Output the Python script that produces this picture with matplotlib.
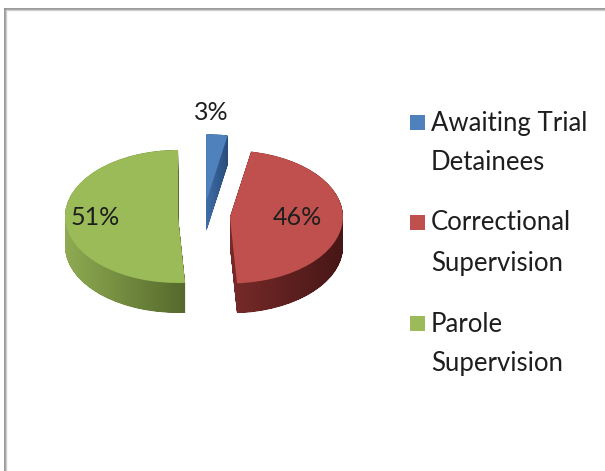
import numpy as np
import matplotlib
matplotlib.use('Agg')
import matplotlib.pyplot as plt
from matplotlib.patches import Rectangle, PathPatch
from matplotlib.path import Path
from matplotlib.lines import Line2D
from matplotlib.colors import LinearSegmentedColormap

plt.rcParams['font.family'] = ['Lato', 'DejaVu Sans']

# ── Data ────────────────────────────────────────────────────────────────
categories = ['Awaiting Trial\nDetainees', 'Correctional\nSupervision', 'Parole\nSupervision']
shares     = [3, 46, 51]
pct_labels = ['3%', '46%', '51%']
top_colors  = ['#4f81bd', '#c0504d', '#9bbb59']
# side shading: lit colour (left) -> shadow colour (right)
side_left   = ['#3f6ea8', '#772b29', '#8eab52']
side_right  = ['#284d7a', '#461616', '#55692b']

W, H = 605, 471
fig = plt.figure(figsize=(W/100, H/100), dpi=100)
ax = fig.add_axes([0, 0, 1, 1])

explode = [0.23] * len(shares)
depth = 0.45          # thickness of the 3D slab (y units)
n_steps = 60

# top face (drawn first so we can reuse its wedge outlines for the sides)
wedges, _ = ax.pie(shares, colors=top_colors, explode=explode, startangle=90,
                   counterclock=False, center=(0, 0), wedgeprops=dict(linewidth=0))

# side of the slab: top-face outline swept downwards, filled with a gradient
for w, cl, cr in zip(wedges, side_left, side_right):
    p = w.get_path()
    verts, codes = [], []
    for k in range(n_steps + 1):
        verts.append(p.vertices + np.array([0, -depth * k / n_steps]))
        codes.append(p.codes)
    swept = Path(np.concatenate(verts), np.concatenate(codes))
    clip = PathPatch(swept, transform=ax.transData, facecolor='none', edgecolor='none')
    ax.add_patch(clip)
    x0, x1 = swept.vertices[:, 0].min(), swept.vertices[:, 0].max()
    y0, y1 = swept.vertices[:, 1].min(), swept.vertices[:, 1].max()
    cmap = LinearSegmentedColormap.from_list('side', [cl, cr])
    im = ax.imshow(np.linspace(0, 1, 256)[None, :], cmap=cmap, aspect='auto',
                   extent=(x0, x1, y0, y1), interpolation='bilinear', zorder=0.5)
    im.set_clip_path(clip)
for w in wedges:
    w.set_zorder(2)

# squash the circle into a tilted ellipse
cx, cy = 204, 255       # pie centre, pixels from bottom-left
sx, sy = 113, 66.5      # pixels per unit in x and y
ax.set_aspect('auto')
ax.set_xlim(-cx / sx, (W - cx) / sx)
ax.set_ylim(-cy / sy, (H - cy) / sy)
ax.axis('off')

# data labels
lab_pos = [(0.062, 1.56), (0.83, -0.03), (-0.965, -0.03)]
for txt, (lx, ly) in zip(pct_labels, lab_pos):
    ax.text(lx, ly, txt, ha='center', va='center', fontsize=18, color='#1e1e1e', zorder=3)

# legend (square beside first line of each entry)
leg_y = [122, 222, 323]
for lab, col, y in zip(categories, top_colors, leg_y):
    fig.patches.append(Rectangle((410 / W, 1 - (y + 8) / H), 15 / W, 15 / H,
                                 transform=fig.transFigure, facecolor=col,
                                 edgecolor='none'))
    for i, line in enumerate(lab.split('\n')):
        fig.text(431 / W, 1 - (y + 1 + 40 * i) / H, line, ha='left', va='center',
                 fontsize=18.5, color='#1e1e1e')

# chart frame (only top and left edges visible)
fig.add_artist(Line2D([5 / W, 5 / W], [0, 1 - 9 / H], color='#8a8a8a', lw=1.2,
                      transform=fig.transFigure))
fig.add_artist(Line2D([6.3 / W, 6.3 / W], [0, 1 - 10 / H], color='#cfcfcf', lw=1.0,
                      transform=fig.transFigure))
fig.add_artist(Line2D([5 / W, 1], [1 - 8.7 / H, 1 - 8.7 / H], color='#8a8a8a', lw=1.2,
                      transform=fig.transFigure))
fig.add_artist(Line2D([6 / W, 1], [1 - 10 / H, 1 - 10 / H], color='#cfcfcf', lw=1.0,
                      transform=fig.transFigure))

fig.savefig('out.png', dpi=100)
